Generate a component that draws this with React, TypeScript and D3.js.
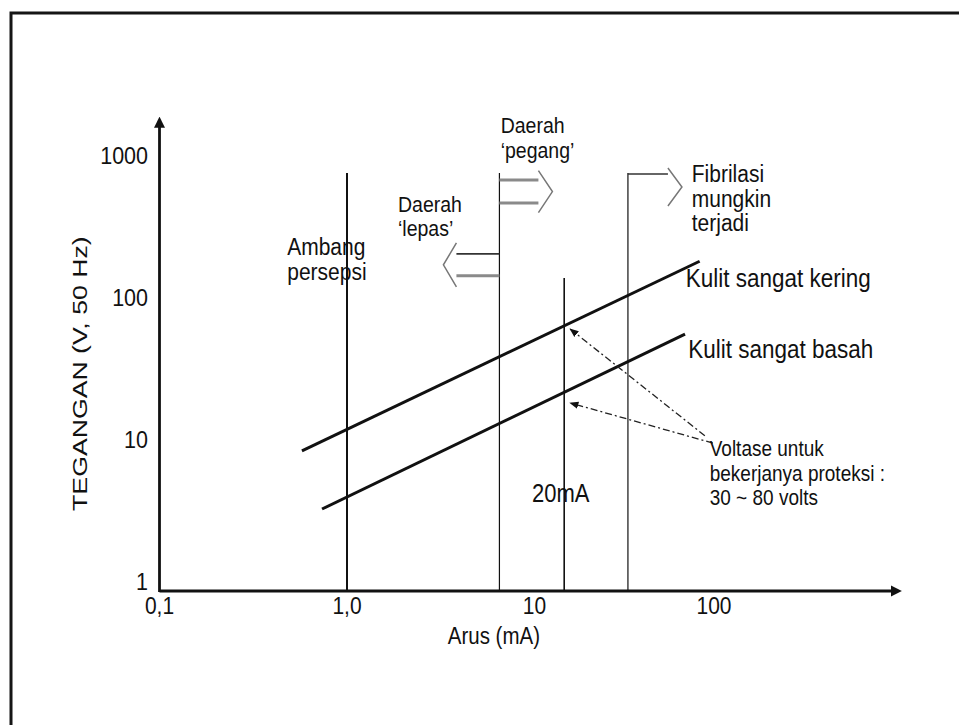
import React from "react";
import * as d3 from "d3";

// ---- data (current in mA, voltage in V) ----
const xTicks = [0.1, 1, 10, 100];
const xTickLabels = ["0,1", "1,0", "10", "100"];
const yTicks = [1, 10, 100, 1000];
const yTickLabels = ["1", "10", "100", "1000"];

// skin curves: two end points each
const dryCurrent = [0.575, 76];
const dryVoltage = [9.7, 210];
const wetCurrent = [0.736, 63.5];
const wetVoltage = [3.78, 64.5];

// vertical boundaries
const boundaryCurrent = [1.0, 6.5, 14.4, 31.5];
const boundaryTop = [880, 880, 160, 880];

// dashed pointers: from the note to the 20mA crossings
const pointerFrom = [[81, 12.4], [89.5, 11]];
const pointerTo = [[15.5, 70], [15.5, 21.1]];

// zone arrows: anchor current, centre voltage, direction
const zoneArrowCurrent = [6.5, 6.5, 31.5];
const zoneArrowVoltage = [650, 198, 700];
const zoneArrowDir = [1, -1, 1];

// text notes: anchor current, baseline voltage, lines
const noteCurrent = [0.48, 6.6, 1.87, 69, 64, 66, 86, 9.7];
const noteVoltage = [232, 1680, 467, 759, 138, 43.7, 8.9, 4.24];
const noteLines = [
  ["Ambang", "persepsi"],
  ["Daerah", "‘pegang’"],
  ["Daerah", "‘lepas’"],
  ["Fibrilasi", "mungkin", "terjadi"],
  ["Kulit sangat kering"],
  ["Kulit sangat basah"],
  ["Voltase untuk", "bekerjanya proteksi :", "30 ~ 80 volts"],
  ["20mA"],
];

const W = 959;
const H = 725;
const FONT = "'Liberation Sans', Arial, Helvetica, sans-serif";
const SY = 1.15; // text in the picture is a bit stretched vertically

// arrow shape sizes (px): shaftLen, shaftHalf, headLen, headHalf
const arrowShape = [
  [39, 11.5, 14, 21],
  [43, 11, 13, 22],
  [40, 13, 14, 19],
];
const boundaryWidth = [2, 1.2, 1.6, 1.2];
const noteSize = [21, 19.5, 19.5, 21, 22.5, 22.5, 19, 22];

function Txt(props: { x: number; y: number; size?: number; anchor?: string; children: any }) {
  const { x, y, size = 20, anchor = "start", children } = props;
  return (
    <text
      transform={`translate(${x},${y}) scale(1,${SY})`}
      fontSize={size}
      fontFamily={FONT}
      textAnchor={anchor}
      fill="#111"
    >
      {children}
    </text>
  );
}

export default function App() {
  const x = d3.scaleLog().domain([0.1, 100]).range([159.5, 722]);
  const y = d3.scaleLog().domain([1, 1000]).range([591, 165]);

  const x0 = x(0.1);
  const y0 = y(1);
  const xEnd = x(850);
  const yEnd = y(2000);

  const line = d3
    .line<[number, number]>()
    .x((d) => x(d[0]))
    .y((d) => y(d[1]));

  const dry = dryCurrent.map((c, i) => [c, dryVoltage[i]] as [number, number]);
  const wet = wetCurrent.map((c, i) => [c, wetVoltage[i]] as [number, number]);

  // open outline of a block arrow leaving a vertical line
  function arrowPath(i: number) {
    const [sl, sh, hl, hh] = arrowShape[i];
    const dir = zoneArrowDir[i];
    const ax = x(zoneArrowCurrent[i]);
    const ay = y(zoneArrowVoltage[i]);
    const bx = ax + dir * sl;
    const tip = bx + dir * hl;
    const top = `M${ax},${ay - sh} L${bx},${ay - sh}`;
    const head = `M${bx},${ay - hh} L${tip},${ay} L${bx},${ay + hh}`;
    const bottom = `M${ax},${ay + sh} L${bx},${ay + sh}`;
    return { top, head, bottom };
  }

  return (
    <svg
      width={W}
      height={H}
      style={{ position: "absolute", left: 0, top: 0, background: "#fff" }}
    >
      <defs>
        <marker id="ah" viewBox="0 0 10 10" refX="9" refY="5" markerWidth="7" markerHeight="7" orient="auto">
          <path d="M0,1 L10,5 L0,9 Z" fill="#111" />
        </marker>
        <marker id="axh" viewBox="0 0 10 10" refX="5" refY="5" markerWidth="4" markerHeight="4" orient="auto">
          <path d="M0,0 L10,5 L0,10 Z" fill="#111" />
        </marker>
      </defs>

      {/* frame */}
      <rect x={11} y={13} width={W + 20} height={H + 20} fill="none" stroke="#151515" strokeWidth={3} />

      {/* axes */}
      <line x1={x0} y1={y0} x2={xEnd} y2={y0} stroke="#111" strokeWidth={2.8} markerEnd="url(#axh)" />
      <line x1={x0} y1={y0 + 1} x2={x0} y2={yEnd} stroke="#111" strokeWidth={2.8} markerEnd="url(#axh)" />

      {yTicks.map((t, i) => (
        <Txt key={"yt" + i} x={148} y={y(t) - 1} anchor="end" size={21.5}>
          {yTickLabels[i]}
        </Txt>
      ))}
      {xTicks.map((t, i) => (
        <Txt key={"xt" + i} x={x(t) - (i === 3 ? 8 : 0)} y={y0 + 23} anchor="middle" size={21}>
          {xTickLabels[i]}
        </Txt>
      ))}

      <Txt x={(x0 + xEnd) / 2 - 34} y={y0 + 53} anchor="middle" size={20.5}>
        Arus (mA)
      </Txt>
      <text
        transform={`translate(87,${(y0 + yEnd) / 2 + 17}) rotate(-90) scale(1.27,1)`}
        fontSize={21}
        fontFamily={FONT}
        textAnchor="middle"
        fill="#111"
      >
        TEGANGAN (V, 50 Hz)
      </text>

      {/* vertical boundaries */}
      {boundaryCurrent.map((c, i) => (
        <line
          key={"b" + i}
          x1={x(c)}
          x2={x(c)}
          y1={y0}
          y2={y(boundaryTop[i])}
          stroke="#111"
          strokeWidth={boundaryWidth[i]}
        />
      ))}

      {/* skin lines */}
      <path d={line(dry) || ""} fill="none" stroke="#111" strokeWidth={3} />
      <path d={line(wet) || ""} fill="none" stroke="#111" strokeWidth={3} />

      {/* zone arrows */}
      {zoneArrowDir.map((_, i) => {
        const p = arrowPath(i);
        return (
          <g key={"za" + i} fill="none">
            <path d={p.top} stroke={i === 0 ? "#8a8a8a" : "#333"} strokeWidth={i === 0 ? 3 : 1.6} />
            <path d={p.head} stroke="#777" strokeWidth={1.5} />
            {i < 2 && <path d={p.bottom} stroke="#8a8a8a" strokeWidth={3} />}
          </g>
        );
      })}

      {/* dashed pointers */}
      {pointerFrom.map((f, i) => (
        <line
          key={"pt" + i}
          x1={x(f[0])}
          y1={y(f[1])}
          x2={x(pointerTo[i][0])}
          y2={y(pointerTo[i][1])}
          stroke="#222"
          strokeWidth={1.3}
          strokeDasharray="7 3 2 3"
          markerEnd="url(#ah)"
        />
      ))}

      {/* notes */}
      {noteLines.map((lines, i) =>
        lines.map((s, j) => (
          <Txt key={"n" + i + "-" + j} x={x(noteCurrent[i])} y={y(noteVoltage[i]) + j * 24.5} size={noteSize[i]}>
            {s}
          </Txt>
        ))
      )}
    </svg>
  );
}
